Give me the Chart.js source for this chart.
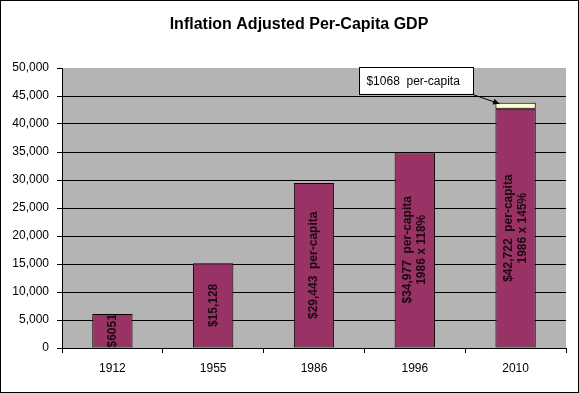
<!DOCTYPE html>
<html><head><meta charset="utf-8">
<script src="https://cdn.jsdelivr.net/npm/chart.js@4/dist/chart.umd.min.js"></script>
<style>html,body{margin:0;padding:0;background:#fff}#w{width:579px;height:393px}</style>
</head><body><div id="w"><canvas id="c" width="579" height="393"></canvas></div>
<script>
const chartTitle = "Inflation Adjusted Per-Capita GDP";
const years = ["1912", "1955", "1986", "1996", "2010"];
const gdpValues = [6051, 15128, 29443, 34977, 42722];
const extraValues = [0, 0, 0, 0, 1068];
const barLabels = [["$6051"], ["$15,128"], ["$29,443  per-capita"], ["$34,977  per-capita", "1986 x 118%"], ["$42,722  per-capita", "1986 x 145%"]];
const calloutText = "$1068  per-capita";
const yMax = 50000, yStep = 5000;

const FONT = "'Liberation Sans', Arial, sans-serif";

const decor = {
  id: 'decor',
  beforeDraw(chart) {
    const {ctx, chartArea: a} = chart;
    ctx.save();
    ctx.fillStyle = '#fff';
    ctx.fillRect(0, 0, chart.width, chart.height);
    ctx.fillStyle = '#b4b4b4';
    ctx.fillRect(a.left, a.top, a.right - a.left, a.bottom - a.top);
    ctx.restore();
  },
  afterDatasetsDraw(chart) {
    const {ctx, chartArea: a} = chart;
    const meta = chart.getDatasetMeta(0);
    ctx.save();
    ctx.beginPath();
    ctx.rect(a.left, a.top, a.right - a.left, a.bottom - a.top);
    ctx.clip();
    ctx.fillStyle = '#1a0a10';
    ctx.font = "bold 12px " + FONT;
    ctx.textAlign = 'center';
    ctx.textBaseline = 'middle';
    meta.data.forEach((el, i) => {
      const lines = barLabels[i];
      const cy = (el.y + el.base) / 2;
      ctx.save();
      ctx.translate(el.x, cy);
      ctx.rotate(-Math.PI / 2);
      const lh = 14;
      lines.forEach((t, j) => {
        ctx.fillText(t, 0, (j - (lines.length - 1) / 2) * lh);
      });
      ctx.restore();
    });
    ctx.restore();
  },
  afterDraw(chart) {
    const {ctx} = chart;
    ctx.save();
    // title
    ctx.fillStyle = '#000';
    ctx.font = "bold 16px " + FONT;
    ctx.textAlign = 'center';
    ctx.textBaseline = 'middle';
    ctx.fillText(chartTitle, 299, 25);
    // callout anchored to the extra segment
    const m1 = chart.getDatasetMeta(1);
    const idx = extraValues.findIndex(v => v > 0);
    if (idx >= 0) {
      const el = m1.data[idx];
      const tipX = el.x - el.width / 2 + 4, tipY = el.y + 1;
      const bx = tipX - 140, by = tipY - 37, bw = 114, bh = 27;
      ctx.fillStyle = '#fff';
      ctx.fillRect(bx, by, bw, bh);
      ctx.strokeStyle = '#000';
      ctx.lineWidth = 1;
      ctx.strokeRect(Math.round(bx) + 0.5, Math.round(by) + 0.5, bw, bh);
      ctx.fillStyle = '#000';
      ctx.font = "12px " + FONT;
      ctx.textAlign = 'left';
      ctx.fillText(calloutText, bx + 7, by + bh / 2 + 1);
      // arrow
      const sx = bx + bw, sy = by + bh + 1;
      ctx.beginPath();
      ctx.moveTo(sx, sy);
      ctx.lineTo(tipX, tipY);
      ctx.stroke();
      const ang = Math.atan2(tipY - sy, tipX - sx);
      ctx.beginPath();
      ctx.moveTo(tipX, tipY);
      ctx.lineTo(tipX - 7 * Math.cos(ang - 0.45), tipY - 7 * Math.sin(ang - 0.45));
      ctx.lineTo(tipX - 7 * Math.cos(ang + 0.45), tipY - 7 * Math.sin(ang + 0.45));
      ctx.closePath();
      ctx.fill();
    }
    // outer border
    ctx.strokeStyle = '#000';
    ctx.strokeRect(0.5, 0.5, chart.width - 1, chart.height - 1);
    ctx.restore();
  }
};

new Chart(document.getElementById('c'), {
  type: 'bar',
  data: {
    labels: years,
    datasets: [
      {data: gdpValues, backgroundColor: '#993366', borderColor: '#000', borderWidth: 1, borderSkipped: false, barPercentage: 0.4, categoryPercentage: 1},
      {data: extraValues, backgroundColor: '#ffffcc', borderColor: '#000', borderWidth: 1, borderSkipped: false, barPercentage: 0.4, categoryPercentage: 1}
    ]
  },
  options: {
    responsive: false,
    animation: false,
    devicePixelRatio: 1,
    layout: {padding: {left: 0, right: 13, top: 68, bottom: 0}},
    plugins: {legend: {display: false}, tooltip: {enabled: false}, title: {display: false}},
    scales: {
      x: {
        stacked: true,
        grid: {offset: true, drawOnChartArea: false, drawTicks: true, tickLength: 5, tickColor: '#000'},
        border: {display: true, color: '#000'},
        ticks: {color: '#000', font: {family: FONT, size: 12}, padding: 8},
        afterFit(s) { s.height = 45; }
      },
      y: {
        stacked: true,
        min: 0, max: yMax,
        grid: {color: c => (c.tick && c.tick.value === yMax) ? 'rgba(0,0,0,0)' : '#000', tickColor: '#000', tickLength: 5},
        border: {display: true, color: '#000'},
        ticks: {stepSize: yStep, color: '#000', font: {family: FONT, size: 12}, padding: 8,
          callback: v => v.toLocaleString('en-US')},
        afterFit(s) { s.width = 62; }
      }
    }
  },
  plugins: [decor]
});
</script></body></html>
